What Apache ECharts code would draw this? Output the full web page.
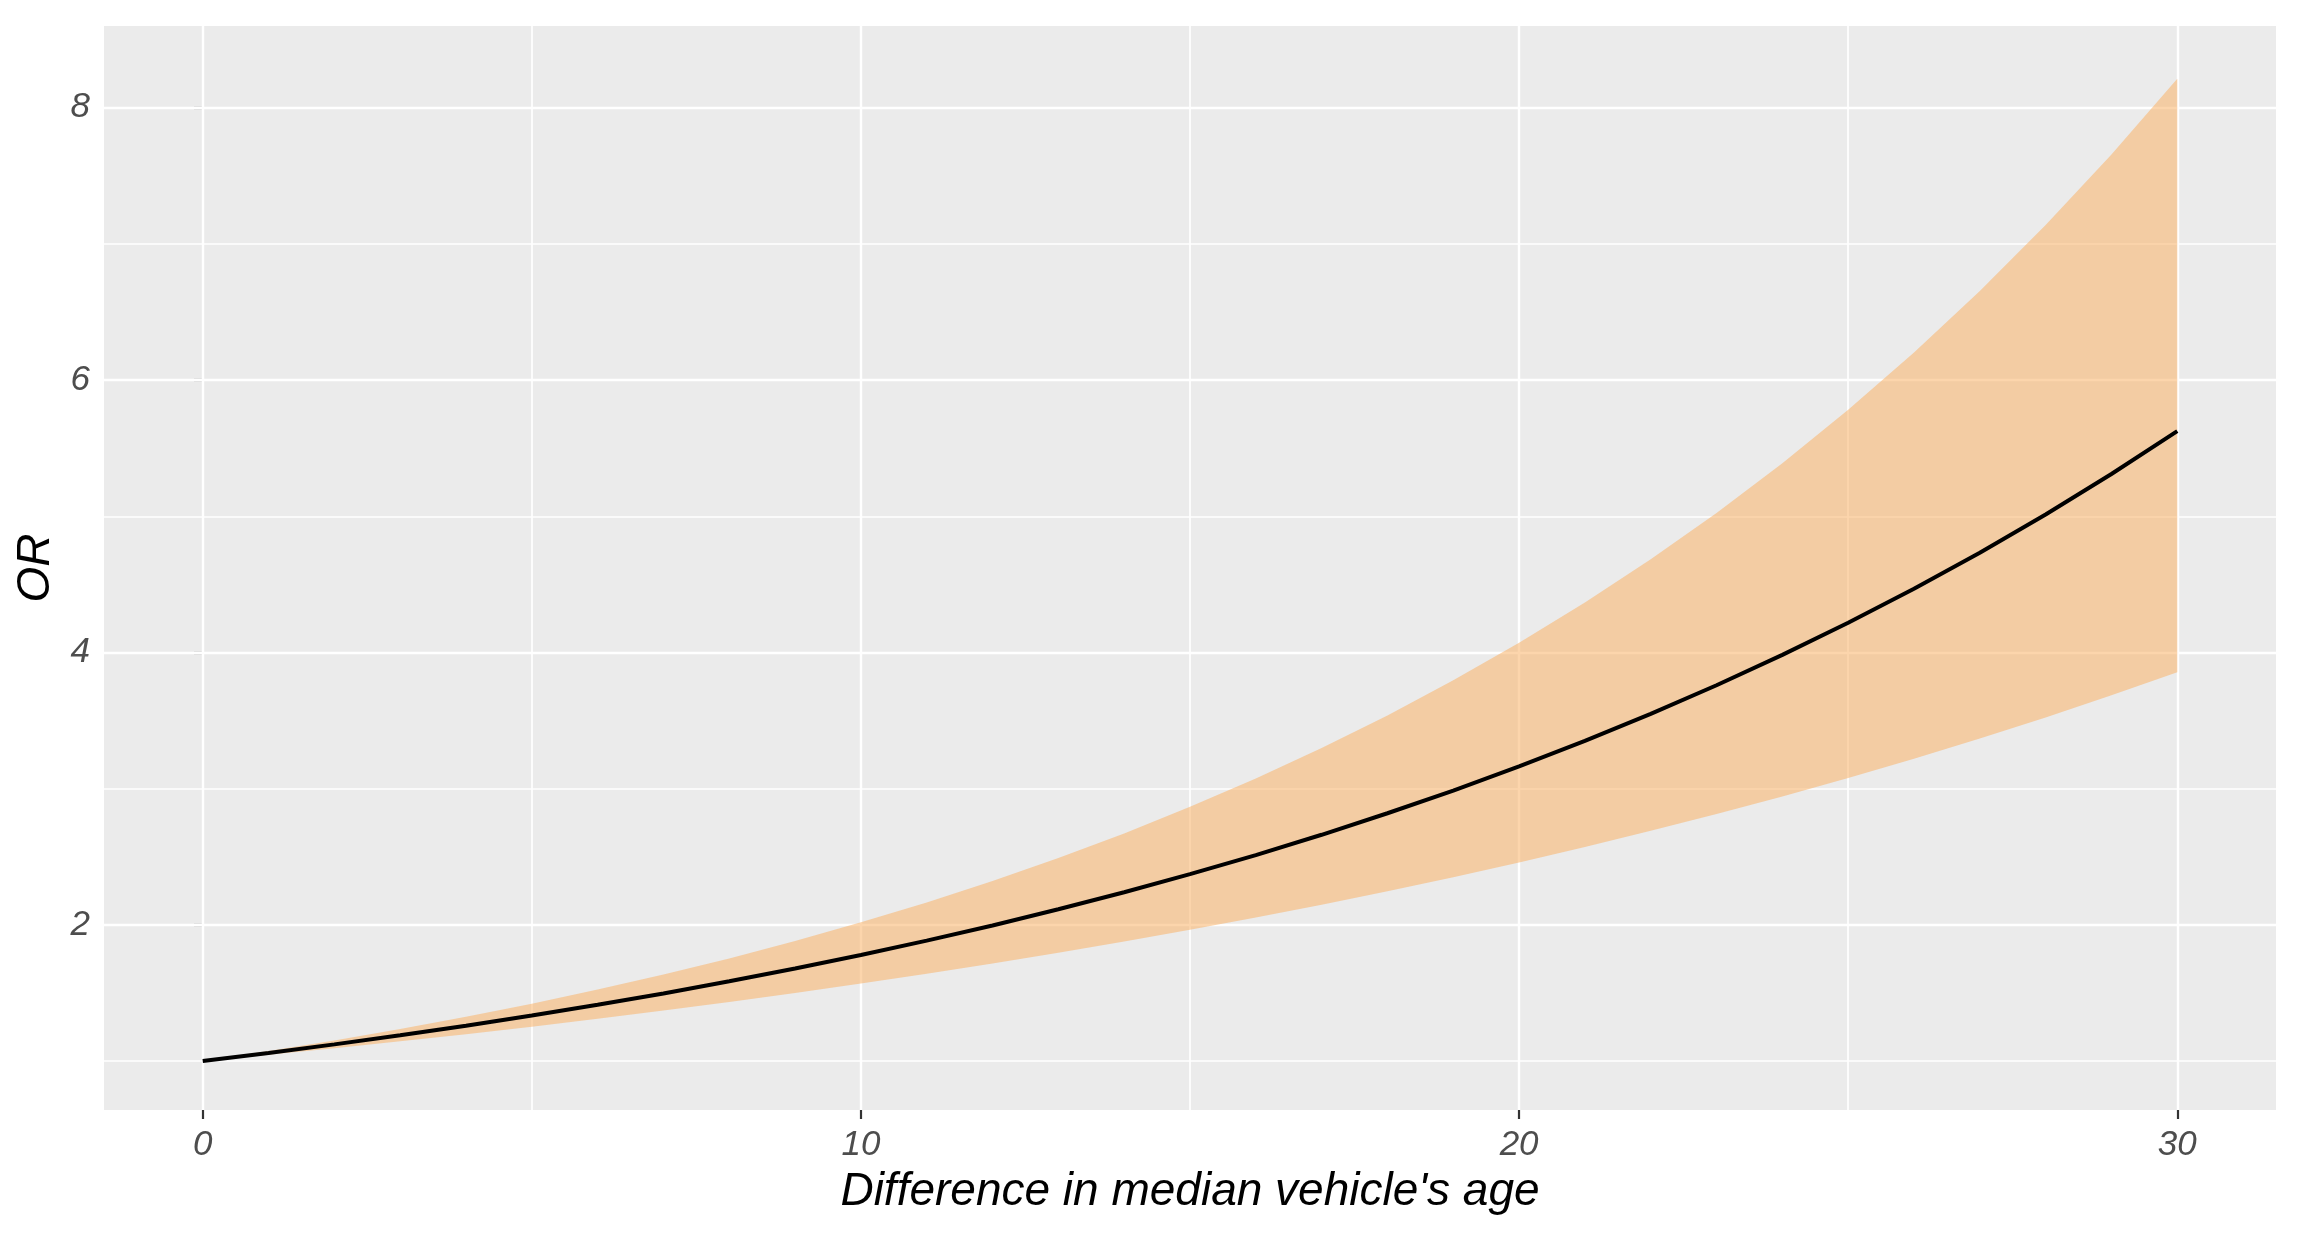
<!DOCTYPE html>
<html>
<head>
<meta charset="utf-8">
<script src="https://cdn.jsdelivr.net/npm/echarts@6/dist/echarts.min.js"></script>
<style>
  html, body { margin: 0; padding: 0; background: #ffffff; }
  #chart { width: 2310px; height: 1237px; }
</style>
</head>
<body>
<div id="chart"></div>
<script>
// ---- data ----
var ageDiff = [0,1,2,3,4,5,6,7,8,9,10,11,12,13,14,15,16,17,18,19,20,21,22,23,24,25,26,27,28,29,30];
var orEstimate = [1.000,1.059,1.122,1.189,1.259,1.334,1.413,1.496,1.585,1.679,1.778,1.884,1.995,2.114,2.239,2.372,2.512,2.661,2.819,2.986,3.163,3.350,3.549,3.759,3.982,4.218,4.468,4.732,5.013,5.310,5.625];
var orLower = [1.000,1.046,1.094,1.145,1.197,1.252,1.310,1.370,1.433,1.499,1.568,1.640,1.716,1.795,1.877,1.963,2.054,2.148,2.247,2.350,2.458,2.572,2.690,2.814,2.943,3.078,3.220,3.368,3.523,3.685,3.854];
var orUpper = [1.000,1.073,1.151,1.234,1.324,1.420,1.524,1.635,1.753,1.881,2.018,2.164,2.322,2.490,2.671,2.866,3.074,3.298,3.537,3.795,4.071,4.366,4.684,5.024,5.390,5.782,6.203,6.654,7.138,7.657,8.213];
var xTicks = [0,10,20,30];
var xMinorGrid = [5,15,25];
var yTicks = [2,4,6,8];
var yMinorGrid = [1,3,5,7];
var xTitle = "Difference in median vehicle's age";
var yTitle = "OR";

// ---- build series data ----
var bandData = ageDiff.map(function (x, i) { return [x, orLower[i], orUpper[i]]; });
var estPts = ageDiff.map(function (x, i) { return [x, orEstimate[i]]; });

var gridLines = [];
xTicks.forEach(function (v) { gridLines.push({ xAxis: v, lineStyle: { width: 2.4 } }); });
xMinorGrid.forEach(function (v) { gridLines.push({ xAxis: v, lineStyle: { width: 1.7 } }); });
yTicks.forEach(function (v) { gridLines.push({ yAxis: v, lineStyle: { width: 2.4 } }); });
yMinorGrid.forEach(function (v) { gridLines.push({ yAxis: v, lineStyle: { width: 1.7 } }); });

function renderBand(params, api) {
  if (params.dataIndex !== 0) { return null; }
  var top = [], bottom = [];
  for (var i = 0; i < bandData.length; i++) {
    top.push(api.coord([bandData[i][0], bandData[i][2]]));
    bottom.push(api.coord([bandData[i][0], bandData[i][1]]));
  }
  var pts = top.concat(bottom.reverse());
  return {
    type: 'polygon',
    shape: { points: pts },
    style: { fill: 'rgba(250,178,104,0.55)' },
    silent: true
  };
}

var FONT = "'Liberation Sans', Arial, sans-serif";
var chart = echarts.init(document.getElementById('chart'), null, { renderer: 'canvas' });
chart.setOption({
  animation: false,
  backgroundColor: '#ffffff',
  grid: {
    left: 104, right: 34, top: 26, bottom: 127,
    show: true, backgroundColor: '#EBEBEB', borderWidth: 0,
    containLabel: false
  },
  xAxis: {
    type: 'value', min: -1.5, max: 31.5,
    axisLine: { show: false },
    axisTick: { show: true, length: 9, customValues: xTicks, lineStyle: { color: '#333333', width: 2.2 } },
    axisLabel: { customValues: xTicks, margin: 18, color: '#4D4D4D', fontSize: 35, fontStyle: 'italic', fontFamily: FONT },
    splitLine: { show: false },
    name: xTitle, nameLocation: 'middle', nameGap: 59,
    nameTextStyle: { color: '#000000', fontSize: 46, fontStyle: 'italic', fontFamily: FONT }
  },
  yAxis: {
    type: 'value', min: 0.64, max: 8.60,
    axisLine: { show: false },
    axisTick: { show: true, length: 9, customValues: yTicks, lineStyle: { color: '#333333', width: 2.2 } },
    axisLabel: { customValues: yTicks, margin: 14, color: '#4D4D4D', fontSize: 35, fontStyle: 'italic', fontFamily: FONT,
                 padding: [6, 0, 0, 0] },
    splitLine: { show: false },
    name: yTitle, nameLocation: 'middle', nameGap: 43, nameRotate: 90,
    nameTextStyle: { color: '#000000', fontSize: 46, fontStyle: 'italic', fontFamily: FONT }
  },
  series: [
    {
      type: 'line', name: 'grid', data: [], symbol: 'none', silent: true, z: 1,
      markLine: {
        silent: true, z: 1, symbol: ['none', 'none'],
        label: { show: false },
        lineStyle: { color: '#FFFFFF', type: 'solid' },
        emphasis: { disabled: true },
        data: gridLines
      }
    },
    {
      type: 'custom', name: 'CI', data: bandData, z: 3, silent: true,
      encode: { x: 0, y: [1, 2] },
      renderItem: renderBand
    },
    {
      type: 'line', name: 'OR', data: estPts,
      symbol: 'none', silent: true, z: 4,
      lineStyle: { color: '#000000', width: 4 }
    }
  ]
});
</script>
</body>
</html>
